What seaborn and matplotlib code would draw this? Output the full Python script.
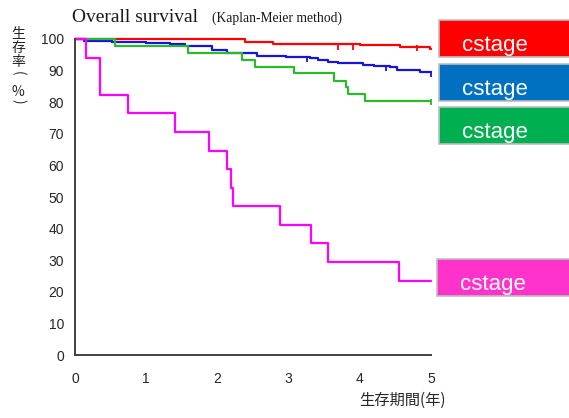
import numpy as np
import pandas as pd
import matplotlib
matplotlib.use("Agg")
import matplotlib.pyplot as plt
from matplotlib.patches import Rectangle
import seaborn as sns

# Kaplan-Meier step curves (years, survival %)
red_t = [0, 2.39, 2.78, 4.0, 4.56, 4.98, 5.0]
red_s = [100, 99.0, 98.3, 98.1, 97.6, 96.8, 96.8]

blue_t = [0, 0.12, 0.52, 1.0, 1.33, 1.55, 1.93, 2.13, 2.55, 2.97, 3.3, 3.41,
          3.55, 3.69, 4.05, 4.2, 4.42, 4.52, 4.85, 5.0]
blue_s = [100, 99.4, 99.0, 98.6, 98.3, 97.8, 96.5, 95.7, 94.7, 94.4, 93.9, 93.4,
          92.7, 92.3, 91.9, 91.5, 91.1, 90.2, 89.4, 89.4]

green_t = [0, 0.56, 1.59, 2.35, 2.53, 3.07, 3.64, 3.8, 3.83, 4.07, 5.0]
green_s = [100, 97.9, 95.7, 93.5, 91.2, 89.1, 86.8, 84.8, 82.7, 80.5, 80.5]

pink_t = [0, 0.15, 0.35, 0.74, 1.41, 1.88, 2.14, 2.19, 2.22, 2.88, 3.31, 3.55, 4.55, 5.0]
pink_s = [100, 94.1, 82.4, 76.5, 70.6, 64.7, 58.8, 52.9, 47.1, 41.2, 35.3, 29.4, 23.5, 23.5]

# censored observations
cens_t = [3.69, 3.9, 4.8, 3.26, 4.37, 5.0, 5.0]
cens_s = [98.1, 98.1, 97.6, 94.4, 91.5, 89.6, 80.7]
cens_g = ["red", "red", "red", "blue", "blue", "blue", "green"]

groups = ["red", "blue", "green", "pink"]
line_colors = {"red": "#FF0000", "blue": "#1414DC", "green": "#2DB82D", "pink": "#FF00FF"}
box_colors = ["#FF0000", "#0070C0", "#00B050", "#FF33CC"]
box_labels = ["cstage", "cstage", "cstage", "cstage"]

x_ticks = [0, 1, 2, 3, 4, 5]
y_ticks = [0, 10, 20, 30, 40, 50, 60, 70, 80, 90, 100]

df = pd.concat([
    pd.DataFrame({"t": red_t, "s": red_s, "g": "red"}),
    pd.DataFrame({"t": blue_t, "s": blue_s, "g": "blue"}),
    pd.DataFrame({"t": green_t, "s": green_s, "g": "green"}),
    pd.DataFrame({"t": pink_t, "s": pink_s, "g": "pink"}),
])
cens = pd.DataFrame({"t": cens_t, "s": cens_s, "g": cens_g})

sns.set_style("white")
plt.rcParams["font.family"] = ["Liberation Sans", "Noto Sans CJK JP", "DejaVu Sans"]
cjk = ["Noto Sans CJK JP", "DejaVu Sans"]

fig = plt.figure(figsize=(5.69, 4.18), dpi=100)
ax = fig.add_axes([0.1318, 0.1507, 0.6257, 0.756])

sns.lineplot(data=df, x="t", y="s", hue="g", hue_order=groups, palette=line_colors,
             estimator=None, sort=False, drawstyle="steps-post", linewidth=1.6,
             legend=False, ax=ax, clip_on=False)
for g in ["red", "blue", "green"]:
    sub = cens[cens["g"] == g]
    ax.plot(sub["t"], sub["s"] - 0.6, linestyle="none", marker="|", markersize=5,
            markeredgewidth=1.3, color=line_colors[g], clip_on=False)

ax.set_xlim(0, 5)
ax.set_ylim(0, 100)
ax.set_xticks(x_ticks)
ax.set_yticks(y_ticks)
ax.set_xlabel("")
ax.set_ylabel("")
for side in ["top", "right"]:
    ax.spines[side].set_visible(False)
for side in ["left", "bottom"]:
    ax.spines[side].set_color("#404040")
    ax.spines[side].set_linewidth(1.4)
ax.tick_params(axis="both", direction="out", length=4, width=1.2, color="#404040",
               labelsize=10, labelcolor="#262626")
ax.tick_params(axis="x", pad=8)
ax.tick_params(axis="y", pad=4)

fig.text(0.126, 0.959, "Overall survival", family="Liberation Serif", fontsize=14,
         color="#1a1a1a", va="center", ha="left")
fig.text(0.372, 0.956, "(Kaplan-Meier method)", family="Liberation Serif", fontsize=9.8,
         color="#1a1a1a", va="center", ha="left")

# vertical y label, one glyph per row
for ch, yy, rot in zip(["生", "存", "率", "(", "%", ")"],
                       [0.9187, 0.8860, 0.852, 0.824, 0.781, 0.758],
                       [0, 0, 0, -90, 0, -90]):
    fig.text(0.032, yy, ch, family=cjk, fontsize=10, color="#262626",
             va="center", ha="center", rotation=rot)

fig.text(0.632, 0.043, "生存期間(年)", family=cjk, fontsize=11,
         color="#262626", va="center", ha="left")

# legend boxes on the right
box_bottoms = [0.8636, 0.7584, 0.6555, 0.2919]
box_lefts = [0.7715, 0.7715, 0.7715, 0.768]
for left, bottom, col, lab in zip(box_lefts, box_bottoms, box_colors, box_labels):
    fig.patches.append(Rectangle((left, bottom), 0.3, 0.0885, transform=fig.transFigure,
                                 facecolor=col, edgecolor="#BFBFBF", linewidth=1.2))
    fig.text(left + 0.040, bottom + 0.027, lab, fontsize=16, color="white",
             va="center", ha="left")

fig.savefig("out.png", dpi=100)
